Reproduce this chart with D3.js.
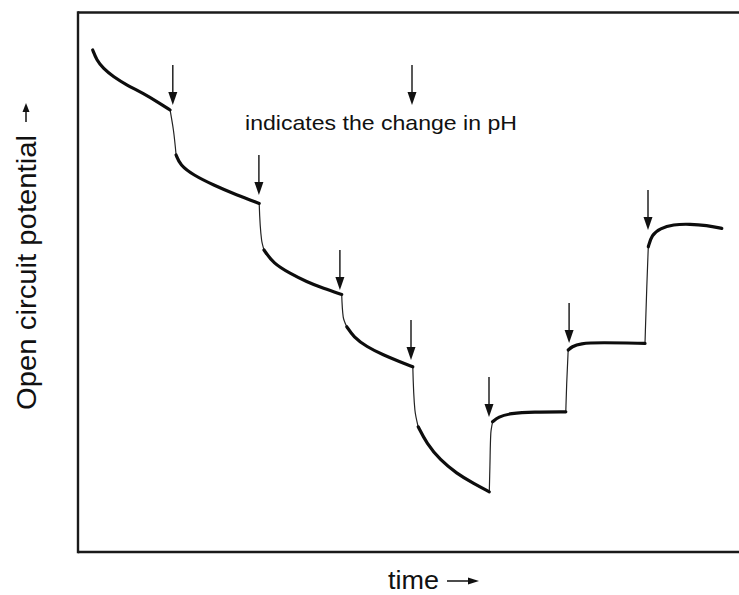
<!DOCTYPE html>
<html>
<head>
<meta charset="utf-8">
<script src="https://cdn.jsdelivr.net/npm/d3@7"></script>
<style>
  body { margin: 0; background: #fff; }
  text { font-family: "Liberation Sans", Arial, sans-serif; fill: #111; }
</style>
</head>
<body>
<div id="ocpContainer"></div>
<script>

var ocpConfig = {
  w: 739,
  h: 595,
  left: 78,
  right: 738,
  top: 12,
  bot: 552
}

// time (min, arbitrary) and open circuit potential (mV, arbitrary)
// each relaxation branch after a pH change
var relaxTime = [
  [4.9, 6.2, 8.4, 11.8, 16.2, 21.8, 27.3, 30.7],
  [32.7, 34, 38.4, 45.1, 52.9, 60.4],
  [62, 65.1, 70.7, 76.2, 81.8, 87.9],
  [89.6, 91.8, 96.2, 101.8, 107.3, 111.6],
  [113.4, 116.2, 120.7, 126.2, 131.8, 137.1],
  [138.2, 140.1, 144, 151.8, 162.6],
  [163.4, 164.6, 167.3, 174, 189],
  [190.1, 191.2, 194, 198.4, 204, 209.6, 214.6]
];
var relaxPotential = [
  [-199, -204, -208.2, -212.4, -216.5, -220.7, -225.7, -229],
  [-251.5, -256.5, -261.5, -266.5, -271.5, -275.7],
  [-299, -305.7, -310.7, -314.9, -318.2, -321.2],
  [-337.4, -342.4, -347.4, -351.5, -354.9, -357.4],
  [-387.4, -395.7, -404, -410.7, -415.7, -419.9],
  [-384.9, -382.4, -380.7, -379.9, -379.9],
  [-349, -347.4, -345.7, -345.2, -345.7],
  [-297.4, -291.5, -288.2, -286.2, -286, -286.7, -288.2]
];

// the fast steps in between (intermediate points only)
var jumpTime = [[31.8], [61.2], [88.4], [112.3], [137.3, 137.6], [162.9], [189.6]];
var jumpPotential = [[-239], [-294], [-332.4], [-379], [-407.4, -390.7], [-365.7], [-317.4]];

// arrows: when the pH was changed and where the trace sits at that moment
var phChangeTime = [31.6, 60.3, 87.3, 111, 137, 163.7, 190];
var phChangePotential = [-226.5, -271.5, -319, -354, -382.5, -345.5, -289];

var svg = d3.select("#ocpContainer").append("svg")
  .attr("width", ocpConfig.w)
  .attr("height", ocpConfig.h);

var x = d3.scaleLinear().domain([0, 220]).range([ocpConfig.left, ocpConfig.right]);
var y = d3.scaleLinear().domain([-450, -180]).range([ocpConfig.bot, ocpConfig.top]);

// frame (open on the right)
var frame = svg.append("g").attr("class", "frame")
  .style("stroke", "#1a1a1a")
  .style("stroke-width", "2.4px");

frame.append("line")
  .attr("x1", x(0)).attr("x2", ocpConfig.w)
  .attr("y1", y(-180) + 0.5).attr("y2", y(-180) + 0.5);
frame.append("line")
  .attr("x1", x(0)).attr("x2", ocpConfig.w)
  .attr("y1", y(-450)).attr("y2", y(-450));
frame.append("line")
  .attr("x1", x(0)).attr("x2", x(0))
  .attr("y1", y(-180) - 0.7).attr("y2", y(-450) + 1.2);

// build point lists
var relaxPts = relaxTime.map(function(ts, i) {
  return ts.map(function(t, j) { return [t, relaxPotential[i][j]]; });
});
var jumpPts = jumpTime.map(function(ts, i) {
  var pts = [relaxPts[i][relaxPts[i].length - 1]];
  ts.forEach(function(t, j) { pts.push([t, jumpPotential[i][j]]); });
  pts.push(relaxPts[i + 1][0]);
  return pts;
});

var relaxLine = d3.line()
  .x(function(d) { return x(d[0]); })
  .y(function(d) { return y(d[1]); })
  .curve(d3.curveBasis);

var jumpLine = d3.line()
  .x(function(d) { return x(d[0]); })
  .y(function(d) { return y(d[1]); })
  .curve(d3.curveMonotoneY);

svg.append("g").attr("class", "jumps")
  .selectAll("path")
  .data(jumpPts)
  .enter().append("path")
  .attr("d", jumpLine)
  .style("fill", "none")
  .style("stroke", "#222")
  .style("stroke-width", "1.2px");

svg.append("g").attr("class", "relax")
  .selectAll("path")
  .data(relaxPts)
  .enter().append("path")
  .attr("d", relaxLine)
  .style("fill", "none")
  .style("stroke", "#0d0d0d")
  .style("stroke-width", "3.2px")
  .style("stroke-linecap", "round");

// down arrows
function drawArrow(g, px, tipY) {
  var len = 40, headL = 13, headW = 4.5;
  g.append("line")
    .attr("x1", px).attr("x2", px)
    .attr("y1", tipY - len).attr("y2", tipY - headL + 1)
    .style("stroke", "#222")
    .style("stroke-width", "1.5px");
  g.append("path")
    .attr("d", "M" + (px - headW) + "," + (tipY - headL) + "L" + (px + headW) + "," + (tipY - headL) + "L" + px + "," + tipY + "Z")
    .style("fill", "#111");
}

var arrows = svg.append("g").attr("class", "arrows");
phChangeTime.forEach(function(t, i) {
  drawArrow(arrows, x(t), y(phChangePotential[i]));
});

// legend
var legend = svg.append("g").attr("class", "legend");
drawArrow(legend, 412, 105);
legend.append("text")
  .attr("x", 245)
  .attr("y", 130)
  .attr("textLength", 272)
  .attr("lengthAdjust", "spacingAndGlyphs")
  .style("font-size", "21px")
  .text("indicates the change in pH");

// x axis title
var xTitle = svg.append("g").attr("class", "x-title");
xTitle.append("text")
  .attr("x", 388)
  .attr("y", 589)
  .attr("textLength", 51)
  .attr("lengthAdjust", "spacingAndGlyphs")
  .style("font-size", "25px")
  .text("time");
xTitle.append("line")
  .attr("x1", 447).attr("x2", 470)
  .attr("y1", 581).attr("y2", 581)
  .style("stroke", "#111").style("stroke-width", "1.5px");
xTitle.append("path")
  .attr("d", "M468,577.5L479,581L468,584.5Z")
  .style("fill", "#111");

// y axis title
var yTitle = svg.append("g").attr("class", "y-title")
  .attr("transform", "translate(36,410) rotate(-90)");
yTitle.append("text")
  .attr("x", 0)
  .attr("y", 0)
  .attr("textLength", 275)
  .attr("lengthAdjust", "spacingAndGlyphs")
  .style("font-size", "27px")
  .text("Open circuit potential");
yTitle.append("line")
  .attr("x1", 288).attr("x2", 300)
  .attr("y1", -10).attr("y2", -10)
  .style("stroke", "#111").style("stroke-width", "1.5px");
yTitle.append("path")
  .attr("d", "M298,-13.5L307,-10L298,-6.5Z")
  .style("fill", "#111");

</script>
</body>
</html>
